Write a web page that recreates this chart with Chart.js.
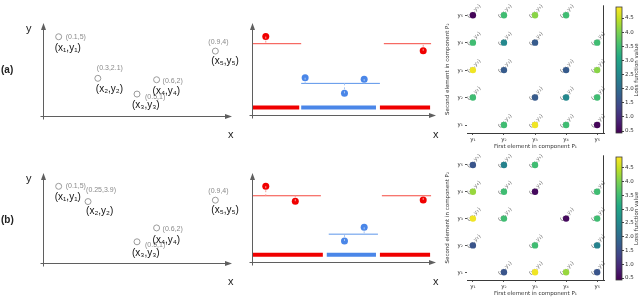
<!DOCTYPE html>
<html>
<head>
<meta charset="utf-8">
<script src="https://cdn.jsdelivr.net/npm/chart.js@4.4.1/dist/chart.umd.min.js"></script>
<style>
html, body { margin: 0; padding: 0; background: #fff; }
body { position: relative; width: 640px; height: 297px; overflow: hidden; }
.panel { position: absolute; }
</style>
</head>
<body>
<div class="panel" style="left:0;top:0;width:250px;height:150px"><canvas id="leftA"></canvas></div>
<div class="panel" style="left:240px;top:0;width:200px;height:150px"><canvas id="midA"></canvas></div>
<div class="panel" style="left:440px;top:0;width:168px;height:150px"><canvas id="gridA"></canvas></div>
<div class="panel" style="left:608px;top:0;width:32px;height:150px"><canvas id="cbarA"></canvas></div>
<div class="panel" style="left:0;top:150px;width:250px;height:147px"><canvas id="leftB"></canvas></div>
<div class="panel" style="left:240px;top:150px;width:200px;height:147px"><canvas id="midB"></canvas></div>
<div class="panel" style="left:440px;top:150px;width:168px;height:147px"><canvas id="gridB"></canvas></div>
<div class="panel" style="left:608px;top:150px;width:32px;height:147px"><canvas id="cbarB"></canvas></div>
<script>
// samples (x, y) in row (a) and row (b)
var sampleXA = [0.1, 0.3, 0.5, 0.6, 0.9]
var sampleYA = [5, 2.1, 1, 2, 4]
var sampleXB = [0.1, 0.25, 0.5, 0.6, 0.9]
var sampleYB = [5, 3.9, 1, 2, 4]
var sampleNames = ['(x\u2081,y\u2081)', '(x\u2082,y\u2082)', '(x\u2083,y\u2083)', '(x\u2084,y\u2084)', '(x\u2085,y\u2085)']

// piecewise constant fit: segment x ranges and levels
var segGroup = [0, 1, 0]
var fitStartA = [0.03, 0.28, 0.70]
var fitEndA = [0.28, 0.68, 0.94]
var fitLevelA = [4.5, 1.7, 4.5]
var barStartA = [0.03, 0.28, 0.68]
var barEndA = [0.27, 0.66, 0.935]
var fitStartB = [0.03, 0.42, 0.69]
var fitEndB = [0.38, 0.67, 0.94]
var fitLevelB = [4.3, 1.5, 4.3]
var barStartB = [0.03, 0.41, 0.68]
var barEndB = [0.39, 0.66, 0.935]
var barLevel = 0

// loss grid: column index, row index, loss value
var gridColA = [1, 2, 3, 4, 1, 2, 3, 5, 1, 2, 4, 5, 1, 3, 4, 5, 2, 3, 4, 5]
var gridRowA = [5, 5, 5, 5, 4, 4, 4, 4, 3, 3, 3, 3, 2, 2, 2, 2, 1, 1, 1, 1]
var gridLossA = [0.5, 3.5, 4.1, 3.5, 3.5, 2.5, 1.7, 3.5, 4.8, 1.7, 1.7, 4.1, 3.5, 1.7, 2.5, 3.5, 3.5, 4.8, 3.5, 0.5]
var gridColB = [1, 2, 3, 1, 2, 3, 5, 1, 2, 4, 5, 1, 3, 5, 2, 3, 4, 5]
var gridRowB = [5, 5, 5, 4, 4, 4, 4, 3, 3, 3, 3, 2, 2, 2, 1, 1, 1, 1]
var gridLossB = [1.6, 2.4, 3.5, 4.2, 3.5, 0.55, 3.5, 4.8, 3.5, 0.55, 3.5, 1.6, 3.5, 2.4, 1.6, 4.8, 4.2, 1.6]
var gridTicks = [1, 2, 3, 4, 5]
var gridTickLabels = ['y\u2081', 'y\u2082', 'y\u2083', 'y\u2084', 'y\u2085']
var lossMin = 0.43
var lossMax = 4.89
var cbarTicks = [0.5, 1, 1.5, 2, 2.5, 3, 3.5, 4, 4.5]

var redColor = '#f00000'
var blueColor = '#4a86e8'
var sansFont = '"Liberation Sans", Arial, "DejaVu Sans", sans-serif'
var mplFont = '"DejaVu Sans", sans-serif'

var viridisStops = ['#440154', '#482475', '#414487', '#355f8d', '#2a788e', '#21918c', '#22a884', '#44bf70', '#7ad151', '#bddf26', '#fde725']

function hexToRgb(h) {
    return [parseInt(h.substr(1, 2), 16), parseInt(h.substr(3, 2), 16), parseInt(h.substr(5, 2), 16)]
}

function viridis(t) {
    t = Math.max(0, Math.min(1, t))
    var p = t * 10
    var i = Math.min(9, Math.floor(p))
    var f = p - i
    var a = hexToRgb(viridisStops[i])
    var b = hexToRgb(viridisStops[i + 1])
    return 'rgb(' + Math.round(a[0] + (b[0] - a[0]) * f) + ',' + Math.round(a[1] + (b[1] - a[1]) * f) + ',' + Math.round(a[2] + (b[2] - a[2]) * f) + ')'
}

function drawArrowAxes(ctx, area, extraBelow) {
    var x0 = Math.round(area.left) + 0.5
    var y0 = Math.round(area.bottom) + 0.5
    ctx.save()
    ctx.strokeStyle = '#5f5f5f'
    ctx.fillStyle = '#5f5f5f'
    ctx.lineWidth = 1
    ctx.beginPath()
    ctx.moveTo(x0, y0 + extraBelow)
    ctx.lineTo(x0, area.top + 5)
    ctx.moveTo(x0 - 3, y0)
    ctx.lineTo(area.right - 5, y0)
    ctx.stroke()
    ctx.beginPath()
    ctx.moveTo(x0, area.top)
    ctx.lineTo(x0 - 2.5, area.top + 7)
    ctx.lineTo(x0 + 2.5, area.top + 7)
    ctx.closePath()
    ctx.fill()
    ctx.beginPath()
    ctx.moveTo(area.right, y0)
    ctx.lineTo(area.right - 7, y0 - 2.5)
    ctx.lineTo(area.right - 7, y0 + 2.5)
    ctx.closePath()
    ctx.fill()
    ctx.restore()
}

var schematicY = { display: false, min: -0.53, max: 5.96 }

// left schematic: raw samples with their labels
function makeSamplesChart(canvasId, xs, ys, panelLabel, valueOffsets, nameOffsets) {
    var points = xs.map(function (x, i) { return { x: x, y: ys[i] } })
    var labelsPlugin = {
        id: 'sampleLabels',
        afterDraw: function (chart) {
            var ctx = chart.ctx
            var area = chart.chartArea
            drawArrowAxes(ctx, area, 3)
            var meta = chart.getDatasetMeta(0)
            ctx.save()
            ctx.textBaseline = 'middle'
            ctx.textAlign = 'left'
            meta.data.forEach(function (el, i) {
                ctx.fillStyle = '#8a8a8a'
                ctx.font = '7px ' + sansFont
                ctx.fillText('(' + xs[i] + ',' + ys[i] + ')', el.x + valueOffsets[i][0], el.y + valueOffsets[i][1])
                ctx.fillStyle = '#111'
                ctx.font = '10px ' + sansFont
                ctx.fillText(sampleNames[i], el.x + nameOffsets[i][0], el.y + nameOffsets[i][1])
            })
            ctx.fillStyle = '#222'
            ctx.font = '11px ' + sansFont
            ctx.fillText('y', area.left - 17, area.top + 6)
            ctx.fillText('x', area.right - 4, area.bottom + 19)
            ctx.font = 'bold 10px ' + sansFont
            ctx.fillText(panelLabel, 1, area.top + 47)
            ctx.restore()
        }
    }
    return new Chart(document.getElementById(canvasId), {
        type: 'scatter',
        data: {
            datasets: [{
                data: points,
                pointRadius: 3,
                pointBorderWidth: 1,
                pointBorderColor: '#9a9a9a',
                pointBackgroundColor: 'rgba(255,255,255,0)'
            }]
        },
        options: {
            responsive: true,
            maintainAspectRatio: false,
            animation: false,
            layout: { padding: { left: 43, right: 18, top: 23, bottom: 34 } },
            plugins: { legend: { display: false }, tooltip: { enabled: false } },
            scales: {
                x: { display: false, min: 0.02, max: 0.985 },
                y: schematicY
            }
        },
        plugins: [labelsPlugin]
    })
}

// middle schematic: piecewise constant fit of the same samples
function makeFitChart(canvasId, xs, ys, fitStart, fitEnd, fitLevel, barStart, barEnd) {
    var palette = [redColor, blueColor]
    var lineColors = ['#f4483f', '#5b95ea']
    var dashColors = ['#f79a96', '#a9c6f3']
    var datasets = []
    var sampleSeg = xs.map(function (x) {
        for (var s = 0; s < fitStart.length; s++) {
            if (x >= fitStart[s] && x <= fitEnd[s]) return s
        }
        return 0
    })
    xs.forEach(function (x, i) {
        var s = sampleSeg[i]
        datasets.push({
            type: 'line',
            data: [{ x: x, y: ys[i] }, { x: x, y: fitLevel[s] }],
            borderColor: dashColors[segGroup[s]],
            borderWidth: 1,
            borderDash: [2, 2],
            pointRadius: 0
        })
    })
    fitStart.forEach(function (x, s) {
        datasets.push({
            type: 'line',
            data: [{ x: x, y: fitLevel[s] }, { x: fitEnd[s], y: fitLevel[s] }],
            borderColor: lineColors[segGroup[s]],
            borderWidth: 1,
            pointRadius: 0
        })
        datasets.push({
            type: 'line',
            data: [{ x: barStart[s], y: barLevel }, { x: barEnd[s], y: barLevel }],
            borderColor: palette[segGroup[s]],
            borderWidth: 4,
            borderCapStyle: 'butt',
            pointRadius: 0
        })
    })
    datasets.push({
        type: 'scatter',
        data: xs.map(function (x, i) { return { x: x, y: ys[i] } }),
        pointRadius: 3.5,
        pointBorderWidth: 0,
        pointBackgroundColor: sampleSeg.map(function (s) { return palette[segGroup[s]] })
    })
    var axesPlugin = {
        id: 'arrowAxes',
        afterDraw: function (chart) {
            var area = chart.chartArea
            drawArrowAxes(chart.ctx, area, 3)
            chart.ctx.save()
            chart.ctx.fillStyle = '#222'
            chart.ctx.font = '11px ' + sansFont
            chart.ctx.textBaseline = 'middle'
            chart.ctx.fillText('x', area.right - 3, area.bottom + 20)
            chart.ctx.restore()
        }
    }
    return new Chart(document.getElementById(canvasId), {
        type: 'scatter',
        data: { datasets: datasets },
        options: {
            responsive: true,
            maintainAspectRatio: false,
            animation: false,
            layout: { padding: { left: 12, right: 0, top: 23, bottom: 35 } },
            plugins: { legend: { display: false }, tooltip: { enabled: false } },
            scales: {
                x: { display: false, min: 0.03, max: 0.965 },
                y: schematicY
            }
        },
        plugins: [axesPlugin]
    })
}

// right: loss value for every pair of components
function makeGridChart(canvasId, cols, rows, losses) {
    var points = cols.map(function (c, i) { return { x: c, y: rows[i] } })
    var colors = losses.map(function (v) { return viridis((v - lossMin) / (lossMax - lossMin)) })
    var pairPlugin = {
        id: 'pairLabels',
        beforeDatasetsDraw: function (chart) {
            var ctx = chart.ctx
            var meta = chart.getDatasetMeta(0)
            ctx.save()
            ctx.fillStyle = '#707070'
            ctx.font = '5.5px ' + mplFont
            ctx.textAlign = 'center'
            ctx.textBaseline = 'middle'
            meta.data.forEach(function (el, i) {
                ctx.save()
                ctx.translate(el.x + 1, el.y - 4)
                ctx.rotate(-Math.PI / 4)
                ctx.fillText('(' + gridTickLabels[cols[i] - 1] + ',' + gridTickLabels[rows[i] - 1] + ')', 0, 0)
                ctx.restore()
            })
            ctx.restore()
        },
        afterDraw: function (chart) {
            var a = chart.chartArea
            var ctx = chart.ctx
            ctx.save()
            ctx.strokeStyle = '#3a3a3a'
            ctx.lineWidth = 1
            ctx.beginPath()
            ctx.moveTo(Math.round(a.right) - 0.5, a.top)
            ctx.lineTo(Math.round(a.right) - 0.5, a.bottom)
            ctx.stroke()
            ctx.restore()
        }
    }
    return new Chart(document.getElementById(canvasId), {
        type: 'scatter',
        data: {
            datasets: [{
                data: points,
                pointRadius: 3.2,
                pointBorderWidth: 0,
                pointBackgroundColor: colors
            }]
        },
        options: {
            responsive: true,
            maintainAspectRatio: false,
            animation: false,
            layout: { padding: { left: 0, right: 2, top: 3, bottom: 0 } },
            plugins: { legend: { display: false }, tooltip: { enabled: false } },
            scales: {
                x: {
                    min: 0.81,
                    max: 5.22,
                    afterBuildTicks: function (scale) { scale.ticks = gridTicks.map(function (v) { return { value: v } }) },
                    afterFit: function (scale) { scale.height = 17 },
                    ticks: {
                        padding: 1,
                        maxRotation: 0,
                        color: '#333',
                        font: { family: mplFont, size: 5.5 },
                        callback: function (v) { return gridTickLabels[v - 1] }
                    },
                    grid: { drawOnChartArea: false, tickLength: 2, color: '#555' },
                    border: { display: true, color: '#3a3a3a' },
                    title: {
                        display: true,
                        text: 'First element in component P\u2081',
                        color: '#333',
                        padding: 0,
                        font: { family: mplFont, size: 5.5 }
                    }
                },
                y: {
                    min: 0.71,
                    max: 5.36,
                    afterBuildTicks: function (scale) { scale.ticks = gridTicks.map(function (v) { return { value: v } }) },
                    afterFit: function (scale) { scale.width = 27 },
                    ticks: {
                        padding: 2,
                        color: '#333',
                        font: { family: mplFont, size: 5.5 },
                        callback: function (v) { return gridTickLabels[v - 1] }
                    },
                    grid: { drawOnChartArea: false, tickLength: 2, color: '#555' },
                    border: { display: false },
                    title: {
                        display: true,
                        text: 'Second element in component P\u2082',
                        color: '#333',
                        padding: { top: 4, bottom: 0 },
                        font: { family: mplFont, size: 5.5 }
                    }
                }
            }
        },
        plugins: [pairPlugin]
    })
}

// colour bar next to the grid
function makeColorBar(canvasId) {
    var titlePlugin = {
        id: 'cbarTitle',
        afterDraw: function (chart) {
            var a = chart.chartArea
            var ctx = chart.ctx
            ctx.save()
            ctx.strokeStyle = '#3a3a3a'
            ctx.lineWidth = 0.8
            ctx.strokeRect(a.left, a.top, a.right - a.left, a.bottom - a.top)
            ctx.translate(29, (a.top + a.bottom) / 2)
            ctx.rotate(-Math.PI / 2)
            ctx.fillStyle = '#333'
            ctx.font = '5.5px ' + mplFont
            ctx.textAlign = 'center'
            ctx.textBaseline = 'middle'
            ctx.fillText('Loss function value', 0, 0)
            ctx.restore()
        }
    }
    return new Chart(document.getElementById(canvasId), {
        type: 'bar',
        data: {
            labels: [''],
            datasets: [{
                data: [[lossMin, lossMax]],
                barPercentage: 1,
                categoryPercentage: 1,
                backgroundColor: function (context) {
                    var area = context.chart.chartArea
                    if (!area) return '#21918c'
                    var g = context.chart.ctx.createLinearGradient(0, area.bottom, 0, area.top)
                    viridisStops.forEach(function (c, i) { g.addColorStop(i / 10, c) })
                    return g
                }
            }]
        },
        options: {
            responsive: true,
            maintainAspectRatio: false,
            animation: false,
            layout: { padding: { left: 8, right: 0, top: 7, bottom: 0 } },
            plugins: { legend: { display: false }, tooltip: { enabled: false } },
            scales: {
                x: { display: true, grid: { display: false }, border: { display: false }, ticks: { display: false }, afterFit: function (scale) { scale.height = 17 } },
                y: {
                    position: 'right',
                    min: lossMin,
                    max: lossMax,
                    afterBuildTicks: function (scale) { scale.ticks = cbarTicks.map(function (v) { return { value: v } }) },
                    afterFit: function (scale) { scale.width = 18 },
                    ticks: {
                        padding: 1,
                        color: '#333',
                        font: { family: mplFont, size: 5.5 },
                        callback: function (v) { return v.toFixed(1) }
                    },
                    grid: { drawOnChartArea: false, tickLength: 2, color: '#444' },
                    border: { display: false }
                }
            }
        },
        plugins: [titlePlugin]
    })
}

makeSamplesChart('leftA', sampleXA, sampleYA, '(a)',
    [[7, 0], [-1, -10], [8, 3], [6, 1], [-7, -9]],
    [[-4, 11], [-2, 11], [-5, 11], [-4, 12], [-4, 10]])
makeFitChart('midA', sampleXA, sampleYA, fitStartA, fitEndA, fitLevelA, barStartA, barEndA)
makeGridChart('gridA', gridColA, gridRowA, gridLossA)
makeColorBar('cbarA')

makeSamplesChart('leftB', sampleXB, sampleYB, '(b)',
    [[7, 0], [-2, -12], [8, 3], [6, 1], [-7, -9]],
    [[-4, 11], [-2, 10], [-5, 11], [-4, 12], [-4, 10]])
makeFitChart('midB', sampleXB, sampleYB, fitStartB, fitEndB, fitLevelB, barStartB, barEndB)
makeGridChart('gridB', gridColB, gridRowB, gridLossB)
makeColorBar('cbarB')
</script>
</body>
</html>
